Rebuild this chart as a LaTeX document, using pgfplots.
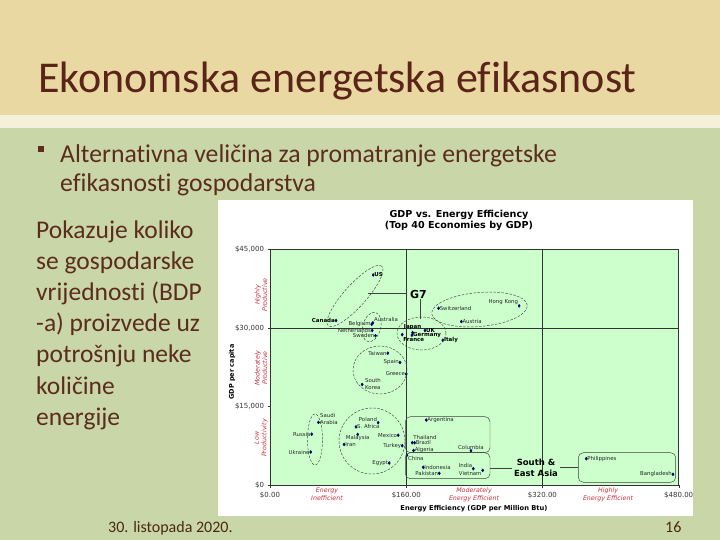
\documentclass[border=0pt]{standalone}
\usepackage{fontspec}
\setmainfont{Carlito}[Ligatures=NoCommon]
\newfontfamily\chartfont{DejaVu Sans}
\usepackage{pgfplots}
\pgfplotsset{compat=1.18}

\definecolor{topbg}{HTML}{EAD8A2}
\definecolor{stripe}{HTML}{F6F0DA}
\definecolor{greenbg}{HTML}{C9D7A8}
\definecolor{titlebrown}{HTML}{5A2418}
\definecolor{textbrown}{HTML}{5C2C1C}
\definecolor{footbrown}{HTML}{4A2810}
\definecolor{plotbg}{HTML}{CCFFCC}
\definecolor{redlab}{HTML}{C8323C}
\definecolor{navy}{HTML}{000060}

\pgfplotsset{
  lab/.style={only marks, mark=diamond*, mark size=1.5pt, navy,
    nodes near coords, point meta=explicit symbolic,
    every node near coord/.append style={anchor=#1, inner sep=1pt, text=black!85,
      font=\chartfont\fontsize{5.4}{6.4}\selectfont}},
  g7/.style={every node near coord/.append style={text=black,
      font=\chartfont\bfseries\fontsize{5.5}{6.5}\selectfont}},
  lift/.style={every node near coord/.append style={yshift=#1}},
}

\begin{document}
\begin{tikzpicture}[x=1pt,y=-1pt]
\fill[greenbg] (0,0) rectangle (720,540);
\fill[topbg] (0,0) rectangle (720,115);
\fill[stripe] (0,115) rectangle (720,128);
\fill[white] (218,200) rectangle (693,516);
\path[use as bounding box] (0,0) rectangle (720,540);
\coordinate (plotorigin) at (270,485);

% slide text
\node[anchor=base west, inner sep=0, text=titlebrown, font=\fontsize{44}{50}\selectfont] at (38,93) {Ekonomska energetska efikasnost};
\fill[textbrown] (38,146) rectangle (44,152);
\node[anchor=base west, inner sep=0, text=textbrown, font=\fontsize{25.7}{30}\selectfont] at (60,163) {Alternativna veličina za promatranje energetske};
\node[anchor=base west, inner sep=0, text=textbrown, font=\fontsize{25.7}{30}\selectfont] at (60,192) {efikasnosti gospodarstva};
\foreach \t [count=\i from 0] in {Pokazuje koliko, se gospodarske, vrijednosti (BDP, -a) proizvede uz, potrošnju neke, količine, energije}
  \node[anchor=base west, inner sep=0, text=textbrown, font=\fontsize{25.5}{30}\selectfont] at (36,238+31.2*\i) {\t};
\node[anchor=base west, inner sep=0, text=footbrown, font=\fontsize{16}{18}\selectfont] at (108,532) {30. listopada 2020.};
\node[anchor=base west, inner sep=0, text=footbrown, font=\fontsize{16}{18}\selectfont] at (665,532) {16};

\begin{axis}[
  at={(plotorigin)}, anchor=south west,
  scale only axis, width=408.7pt, height=235.7pt,
  xmin=0, xmax=480, ymin=0, ymax=45000,
  clip=false,
  axis background/.style={fill=plotbg},
  axis line style={draw=black!80, line width=0.5pt},
  xtick={0,160,320,480},
  xticklabels={\$0.00,\$160.00,\$320.00,\$480.00},
  ytick={0,15000,30000,45000},
  yticklabels={\$0,{\$15,000},{\$30,000},{\$45,000}},
  extra x ticks={160,320}, extra x tick labels={},
  extra x tick style={grid=major, major tick length=0pt},
  extra y ticks={30000}, extra y tick labels={},
  extra y tick style={grid=major, major tick length=0pt},
  major grid style={draw=black!80, line width=0.5pt},
  xtick pos=bottom, ytick pos=left,
  tick align=outside, major tick length=2.5pt,
  tick style={black!80, line width=0.4pt},
  ticklabel style={font=\chartfont\fontsize{7}{8}\selectfont, text=black!80},
  xticklabel style={yshift=-1.5pt},
  scaled ticks=false,
]
% G7
\addplot[lab=west, g7] table[meta=lab] {
x     y      lab
121.2 40100  US
182.0 29500  UK
166.7 28600  Germany
203.0 27650  Italy
};
\addplot[lab=east, g7] table[meta=lab] {
x     y      lab
77.6  31400  Canada
};
\addplot[lab=south, g7, lift=2pt] table[meta=lab] {
x     y      lab
167.5 29100  Japan
};
\addplot[lab=north west, g7, lift=-1.5pt] table[meta=lab] {
x     y      lab
155.3 28700  France
};
% other economies
\addplot[lab=west] table[meta=lab] {
x     y      lab
198.0 33750  Switzerland
224.7 31200  Austria
101.0 11100  {S. Africa}
87.0  7750   Iran
183.5 12400  Argentina
169.8 8070   Brazil
168.6 6600   Algeria
180.0 3380   Indonesia
371.4 5020   Philippines
108.2 19200  {}
56.9  11950  {}
};
\addplot[lab=east] table[meta=lab] {
x     y      lab
119.6 30700  Belgium
120.0 29500  Netherlands
123.9 28500  Sweden
138.4 25170  Taiwan
152.6 23400  Spain
160.0 21200  Greece
49.0  9700   Russia
47.8  6300   Ukraine
150.6 9500   Mexico
155.3 7500   Turkey
140.0 4200   Egypt
198.8 2230   Pakistan
473.3 2040   Bangladesh
};
\addplot[lab=south west] table[meta=lab] {
x     y      lab
120.8 30950  Australia
};
\addplot[lab=south west, lift=2pt] table[meta=lab] {
x     y      lab
167.0 8070   Thailand
};
\addplot[lab=south east] table[meta=lab] {
x     y      lab
292.6 34200  {Hong Kong}
127.0 11900  Poland
238.8 3110   India
};
\addplot[lab=north] table[meta=lab] {
x     y      lab
103.0 9650   Malaysia
};
\addplot[lab=north west] table[meta=lab] {
x     y      lab
160.8 5700   China
};
\addplot[lab=south] table[meta=lab] {
x     y      lab
236.0 6540   Columbia
};
\addplot[lab=north east] table[meta=lab] {
x     y      lab
249.8 2800   Vietnam
};
\end{axis}

% two-line point labels
\node[anchor=west, align=left, inner sep=1pt, font=\chartfont\fontsize{5.4}{6.4}\selectfont, text=black!85] at (364,384) {South\\Korea};
\node[anchor=west, align=left, inner sep=1pt, font=\chartfont\fontsize{5.4}{6.4}\selectfont, text=black!85] at (319,419) {Saudi\\Arabia};

% chart title and axis texts
\node[align=center, font=\chartfont\bfseries\fontsize{9.6}{11}\selectfont] at (459,220.5) {GDP vs. Energy Efficiency\\(Top 40 Economies by GDP)};
\node[font=\chartfont\bfseries\fontsize{6.7}{8}\selectfont] at (474,509) {Energy Efficiency (GDP per Million Btu)};
\node[rotate=90, font=\chartfont\bfseries\fontsize{6.5}{8}\selectfont] at (232,372) {GDP per capita};
\begin{scope}[every node/.style={align=center, text=redlab, font=\chartfont\itshape\fontsize{6.3}{7.7}\selectfont}]
  \node[rotate=90] at (261,295) {Highly\\Productive};
  \node[rotate=90] at (261,368) {Moderately\\Productive};
  \node[rotate=90] at (261,438) {Low\\Productivity};
  \node at (327,494.5) {Energy\\Inefficient};
  \node at (474,494.5) {Moderately\\Energy Efficient};
  \node at (608,494.5) {Highly\\Energy Efficient};
\end{scope}

% group outlines
\begin{scope}[black!75, line width=0.45pt]
  \begin{scope}[dash pattern=on 2.5pt off 1.5pt]
    \draw[rotate around={48:(355,296)}] (355,296) ellipse [x radius=40pt, y radius=11pt];
    \draw[rotate around={-15:(371.7,327)}] (371.7,327) ellipse [x radius=9pt, y radius=15pt];
    \draw (421.5,333.5) ellipse [x radius=24.5pt, y radius=16.5pt];
    \draw[rotate around={5:(479.5,309.5)}] (479.5,309.5) ellipse [x radius=48pt, y radius=17pt];
    \draw (380,370) ellipse [x radius=27pt, y radius=24pt];
    \draw (315,439.5) ellipse [x radius=7.5pt, y radius=25.5pt];
    \draw (372,441) ellipse [x radius=33pt, y radius=33pt];
  \end{scope}
  \draw[rounded corners=5pt] (405.3,416.7) rectangle (490,452.7);
  \draw[rounded corners=5pt] (405.3,452.7) rectangle (490,478.7);
  \draw[rounded corners=5pt] (578.3,452.7) rectangle (675.7,482.3);
  \draw (367.7,293.3) -- (406.7,293.3);
  \draw (420.3,299) -- (420.3,319.3);
  \draw (490,468) -- (512,468);
  \draw (560,467.5) -- (578.3,467.5);
\end{scope}
\node[font=\chartfont\bfseries\fontsize{11}{13}\selectfont] at (418.5,294) {G7};
\node[align=center, font=\chartfont\bfseries\fontsize{8.5}{10.7}\selectfont] at (536,467.7) {South \&\\East Asia};
\end{tikzpicture}
\end{document}
